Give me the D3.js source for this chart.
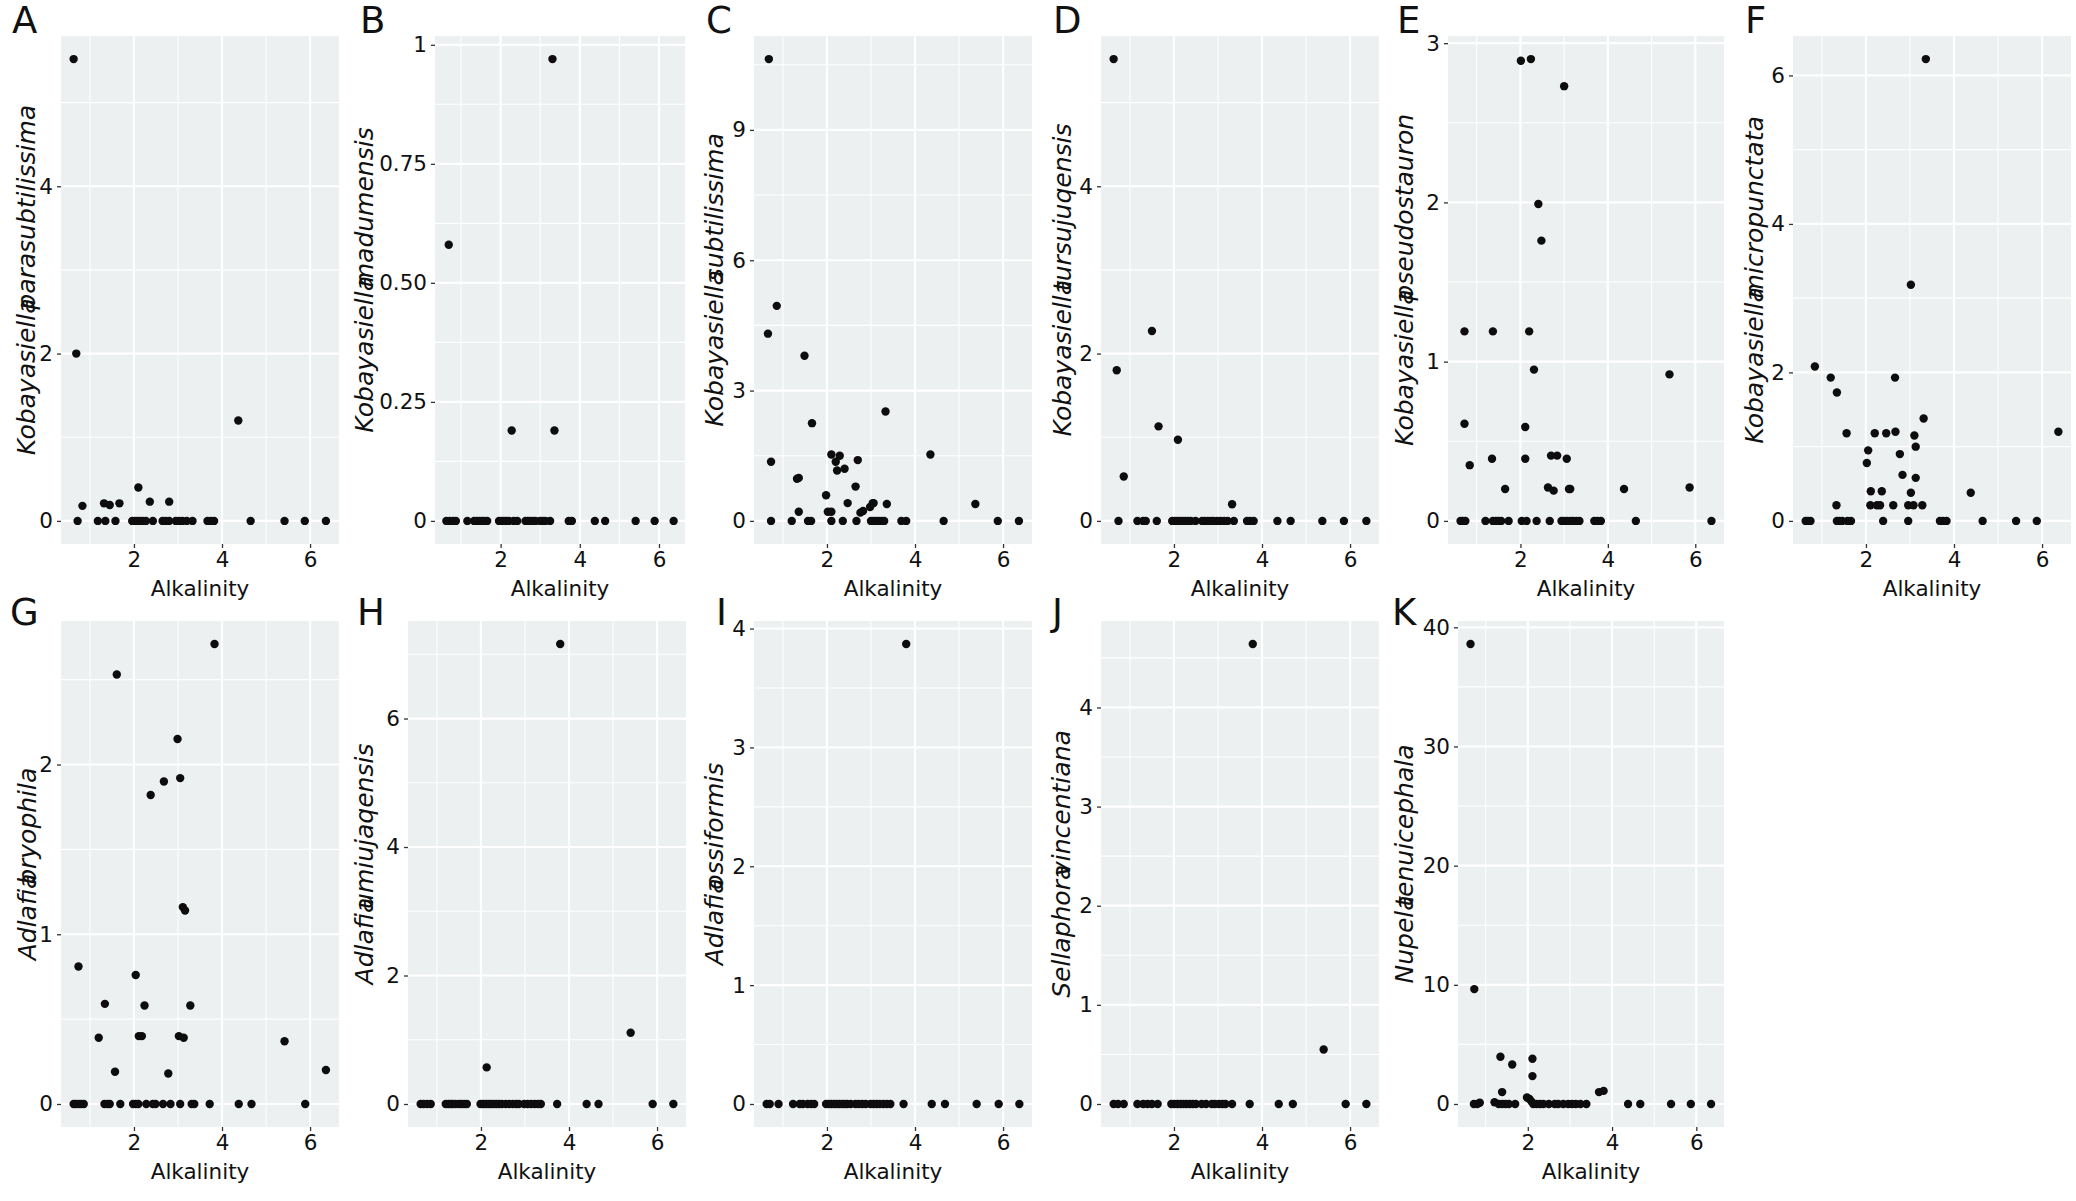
<!DOCTYPE html>
<html><head><meta charset="utf-8">
<script src="https://cdn.jsdelivr.net/npm/d3@7"></script>
<style>body{margin:0;background:#fff} svg{display:block}</style>
</head><body>
<svg id="c" width="2076" height="1201"></svg>
<script>
// ---------------- data ----------------
const letters = ["A","B","C","D","E","F","G","H","I","J","K"];
const genera  = ["Kobayasiella","Kobayasiella","Kobayasiella","Kobayasiella","Kobayasiella","Kobayasiella","Adlafia","Adlafia","Adlafia","Sellaphora","Nupela"];
const epithets = ["parasubtilissima","madumensis","subtilissima","tursujuqensis","pseudostauron","micropunctata","bryophila","umiujaqensis","ossiformis","vincentiana","tenuicephala"];
const xTicks = [2,4,6];
const xTitle = "Alkalinity";

// y breaks / labels per panel
const yTicksA = [0,2,4],            yLabA = ["0","2","4"];
const yTicksB = [0,0.25,0.5,0.75,1],yLabB = ["0","0.25","0.50","0.75","1"];
const yTicksC = [0,3,6,9],          yLabC = ["0","3","6","9"];
const yTicksD = [0,2,4],            yLabD = ["0","2","4"];
const yTicksE = [0,1,2,3],          yLabE = ["0","1","2","3"];
const yTicksF = [0,2,4,6],          yLabF = ["0","2","4","6"];
const yTicksG = [0,1,2],            yLabG = ["0","1","2"];
const yTicksH = [0,2,4,6],          yLabH = ["0","2","4","6"];
const yTicksI = [0,1,2,3,4],        yLabI = ["0","1","2","3","4"];
const yTicksJ = [0,1,2,3,4],        yLabJ = ["0","1","2","3","4"];
const yTicksK = [0,10,20,30,40],    yLabK = ["0","10","20","30","40"];

// non-zero observations [alkalinity, abundance]
const ptsA = [[0.63,5.52],[0.69,2.0],[0.83,0.18],[1.32,0.21],[1.45,0.19],[1.67,0.21],[2.1,0.4],[2.36,0.23],[2.8,0.23],[4.37,1.2]];
const ptsB = [[0.69,0.58],[3.31,0.97],[2.28,0.19],[3.36,0.19]];
const ptsC = [[0.68,10.63],[0.86,4.95],[0.66,4.31],[0.73,1.36],[1.49,3.8],[1.66,2.25],[1.32,0.97],[1.36,0.99],[1.36,0.21],[1.98,0.59],[2.02,0.21],[2.1,0.21],[2.1,1.53],[2.2,1.36],[2.29,1.5],[2.23,1.16],[2.4,1.2],[2.47,0.41],[2.65,0.79],[2.7,1.4],[2.76,0.19],[2.82,0.23],[2.98,0.32],[3.04,0.41],[3.06,0.41],[3.33,2.52],[3.36,0.39],[4.35,1.53],[5.37,0.39]];
const ptsD = [[0.63,5.52],[0.7,1.8],[0.86,0.53],[1.5,2.27],[1.65,1.13],[2.09,0.97],[3.32,0.2]];
const ptsE = [[2.01,2.89],[2.24,2.9],[3.0,2.73],[2.41,1.99],[2.48,1.76],[0.72,1.19],[1.37,1.19],[2.2,1.19],[2.31,0.95],[5.41,0.92],[0.72,0.61],[2.11,0.59],[0.84,0.35],[1.35,0.39],[2.11,0.39],[2.7,0.41],[2.84,0.41],[3.06,0.39],[1.65,0.2],[2.63,0.21],[2.76,0.19],[3.11,0.2],[3.14,0.2],[4.37,0.2],[5.87,0.21]];
const ptsF = [[3.36,6.22],[3.02,3.18],[0.84,2.08],[1.2,1.93],[1.34,1.73],[2.66,1.93],[3.31,1.38],[1.56,1.18],[2.2,1.18],[2.46,1.18],[2.67,1.2],[3.1,1.15],[3.13,1.0],[6.37,1.2],[2.05,0.95],[2.02,0.78],[2.77,0.9],[2.83,0.62],[3.13,0.58],[2.11,0.4],[2.36,0.4],[3.02,0.38],[4.38,0.38],[1.33,0.21],[2.1,0.21],[2.25,0.21],[2.32,0.21],[2.62,0.21],[2.96,0.21],[3.08,0.21],[3.28,0.21]];
const ptsG = [[3.83,2.71],[1.61,2.53],[2.99,2.15],[2.68,1.9],[3.05,1.92],[2.38,1.82],[3.11,1.16],[3.16,1.14],[0.74,0.81],[2.04,0.76],[1.34,0.59],[2.24,0.58],[3.28,0.58],[1.2,0.39],[2.11,0.4],[2.18,0.4],[3.02,0.4],[3.13,0.39],[5.42,0.37],[1.57,0.19],[2.78,0.18],[6.36,0.2]];
const ptsH = [[3.8,7.16],[5.4,1.11],[2.13,0.57]];
const ptsI = [[3.8,3.87]];
const ptsJ = [[3.79,4.64],[5.4,0.55]];
const ptsK = [[0.64,38.6],[0.73,9.64],[1.35,3.96],[1.63,3.31],[2.11,3.8],[2.11,2.34],[1.39,1.0],[3.69,1.0],[3.8,1.1],[0.86,0.1],[1.21,0.15],[1.98,0.55],[2.04,0.42],[2.09,0.2]];

// alkalinity of samples where abundance is zero
const zeroA = [0.72,1.18,1.35,1.58,1.96,2.02,2.08,2.14,2.2,2.27,2.43,2.65,2.72,2.8,2.95,3.02,3.1,3.2,3.33,3.67,3.75,3.82,4.65,5.42,5.88,6.36];
const zeroB = [0.63,0.72,0.8,0.87,1.16,1.33,1.4,1.46,1.52,1.58,1.66,1.96,2.02,2.08,2.14,2.21,2.33,2.42,2.63,2.69,2.75,2.82,2.88,3.0,3.06,3.13,3.25,3.72,3.8,4.38,4.64,5.41,5.89,6.37];
const zeroC = [0.73,1.2,1.57,1.64,2.1,2.36,2.67,3.0,3.06,3.12,3.18,3.24,3.3,3.69,3.8,4.65,5.88,6.36];
const zeroD = [0.74,1.17,1.3,1.36,1.61,1.96,2.02,2.08,2.14,2.2,2.26,2.32,2.38,2.49,2.64,2.7,2.77,2.84,2.9,2.98,3.06,3.14,3.22,3.36,3.66,3.73,3.81,4.35,4.65,5.37,5.86,6.37];
const zeroE = [0.63,0.68,0.74,1.2,1.37,1.44,1.5,1.56,1.73,2.03,2.14,2.37,2.67,2.94,3.0,3.07,3.14,3.2,3.28,3.35,3.69,3.76,3.84,4.64,6.37];
const zeroF = [0.63,0.68,0.74,1.34,1.4,1.46,1.58,1.66,2.39,2.96,3.68,3.75,3.83,4.65,5.41,5.88];
const zeroG = [0.63,0.68,0.74,0.8,0.86,1.33,1.4,1.45,1.69,1.98,2.04,2.1,2.28,2.43,2.49,2.66,2.83,3.05,3.31,3.37,3.72,4.38,4.67,5.89];
const zeroH = [0.63,0.7,0.78,0.86,1.2,1.26,1.31,1.36,1.42,1.5,1.56,1.62,1.68,1.99,2.05,2.11,2.17,2.23,2.29,2.35,2.41,2.47,2.56,2.64,2.72,2.8,2.86,2.98,3.06,3.14,3.22,3.3,3.36,3.73,4.4,4.67,5.9,6.37];
const zeroI = [0.63,0.7,0.9,1.23,1.38,1.45,1.56,1.64,1.71,1.98,2.04,2.1,2.16,2.22,2.28,2.34,2.4,2.46,2.54,2.65,2.72,2.8,2.88,2.99,3.06,3.13,3.2,3.28,3.36,3.44,3.74,4.38,4.68,5.4,5.9,6.37];
const zeroJ = [0.63,0.73,0.86,1.17,1.3,1.4,1.5,1.63,1.94,2.01,2.08,2.15,2.22,2.29,2.36,2.43,2.5,2.63,2.73,2.86,2.93,3.02,3.1,3.17,3.32,3.72,4.38,4.7,5.9,6.37];
const zeroK = [0.72,0.8,1.31,1.39,1.47,1.55,1.7,2.13,2.21,2.29,2.37,2.5,2.64,2.72,2.84,2.96,3.05,3.14,3.25,3.39,4.38,4.67,5.4,5.87,6.35];

const seriesPts = [ptsA,ptsB,ptsC,ptsD,ptsE,ptsF,ptsG,ptsH,ptsI,ptsJ,ptsK];
const seriesZero = [zeroA,zeroB,zeroC,zeroD,zeroE,zeroF,zeroG,zeroH,zeroI,zeroJ,zeroK];
const yTicksAll = [yTicksA,yTicksB,yTicksC,yTicksD,yTicksE,yTicksF,yTicksG,yTicksH,yTicksI,yTicksJ,yTicksK];
const yLabAll = [yLabA,yLabB,yLabC,yLabD,yLabE,yLabF,yLabG,yLabH,yLabI,yLabJ,yLabK];

// ---------------- layout ----------------
const rows = [{top:36, bottom:544, letterY:33}, {top:621, bottom:1127, letterY:625}];
const layout = [
  {row:0, x0:61,   x1:339,  lx:12,   col:0},
  {row:0, x0:435,  x1:685,  lx:360,  col:346},
  {row:0, x0:754,  x1:1032, lx:706,  col:692},
  {row:0, x0:1101, x1:1379, lx:1053, col:1038},
  {row:0, x0:1448, x1:1724, lx:1397, col:1384},
  {row:0, x0:1793, x1:2071, lx:1745, col:1730},
  {row:1, x0:61,   x1:339,  lx:10,   col:0},
  {row:1, x0:408,  x1:686,  lx:357,  col:346},
  {row:1, x0:754,  x1:1032, lx:716,  col:692},
  {row:1, x0:1101, x1:1379, lx:1052, col:1038},
  {row:1, x0:1458, x1:1724, lx:1392, col:1384}
];
const titleOff = [26,18,22,24,20,24,27,18,22,23,20];

const FONT = "'DejaVu Sans', 'Liberation Sans', sans-serif";
const BG = "#ECF0F0";

const svg = d3.select("#c");
svg.append("rect").attr("width",2076).attr("height",1201).attr("fill","#fff");

// shared x domain from all observations, 5% expansion
const allX = seriesPts.flatMap(s=>s.map(d=>d[0])).concat(seriesZero.flat());
const [xmin,xmax] = d3.extent(allX);
const xr = xmax - xmin;
const xDom = [xmin - 0.05*xr, xmax + 0.05*xr];

function minorBreaks(breaks, dom){
  const step = breaks[1]-breaks[0];
  const out = [];
  for (let v = breaks[0]-step/2; v <= dom[1]; v += step) if (v >= dom[0]) out.push(v);
  return out;
}

letters.forEach((L,i)=>{
  const lay = layout[i], r = rows[lay.row];
  const pts = seriesPts[i].concat(seriesZero[i].map(x=>[x,0]));
  const ymax = d3.max(pts, d=>d[1]);
  const yDom = [0 - 0.05*ymax, ymax + 0.05*ymax];
  const x = d3.scaleLinear().domain(xDom).range([lay.x0, lay.x1]);
  const y = d3.scaleLinear().domain(yDom).range([r.bottom, r.top]);
  const g = svg.append("g");

  g.append("rect").attr("x",lay.x0).attr("y",r.top)
    .attr("width",lay.x1-lay.x0).attr("height",r.bottom-r.top).attr("fill",BG);

  // minor grid
  const xMinor = minorBreaks(xTicks, xDom), yMinor = minorBreaks(yTicksAll[i], yDom);
  g.selectAll(".xm").data(xMinor).join("line")
    .attr("x1",d=>x(d)).attr("x2",d=>x(d)).attr("y1",r.top).attr("y2",r.bottom)
    .attr("stroke","#fff").attr("stroke-width",1.1);
  g.selectAll(".ym").data(yMinor).join("line")
    .attr("y1",d=>y(d)).attr("y2",d=>y(d)).attr("x1",lay.x0).attr("x2",lay.x1)
    .attr("stroke","#fff").attr("stroke-width",1.1);
  // major grid
  g.selectAll(".xM").data(xTicks).join("line")
    .attr("x1",d=>x(d)).attr("x2",d=>x(d)).attr("y1",r.top).attr("y2",r.bottom)
    .attr("stroke","#fff").attr("stroke-width",2.2);
  g.selectAll(".yM").data(yTicksAll[i]).join("line")
    .attr("y1",d=>y(d)).attr("y2",d=>y(d)).attr("x1",lay.x0).attr("x2",lay.x1)
    .attr("stroke","#fff").attr("stroke-width",2.2);

  // points
  g.selectAll("circle").data(pts).join("circle")
    .attr("cx",d=>x(d[0])).attr("cy",d=>y(d[1])).attr("r",4.2).attr("fill","#0d0d0d");

  // axes
  const labs = yLabAll[i], tv = yTicksAll[i];
  const ya = g.append("g").attr("transform",`translate(${lay.x0},0)`)
    .call(d3.axisLeft(y).tickValues(tv).tickSize(4).tickPadding(4).tickFormat((d,k)=>labs[k]));
  const xa = g.append("g").attr("transform",`translate(0,${r.bottom})`)
    .call(d3.axisBottom(x).tickValues(xTicks).tickSize(4).tickPadding(4).tickFormat(d3.format("d")));
  [ya,xa].forEach(a=>{
    a.select(".domain").remove();
    a.selectAll(".tick line").attr("stroke","#333").attr("stroke-width",1.3);
    a.selectAll(".tick text").attr("fill","#111").style("font-family",FONT).style("font-size","21.5px");
  });

  // x title
  g.append("text").attr("x",(lay.x0+lay.x1)/2).attr("y",r.bottom+52)
    .attr("text-anchor","middle").style("font-family",FONT).style("font-size","21.5px")
    .attr("fill","#111").text(xTitle);

  // y title (italic, genus + epithet run together)
  const ty = (r.top+r.bottom)/2 - 10, tx = lay.col + titleOff[i];
  const t = g.append("text").attr("transform",`translate(${tx},${ty}) rotate(-90)`)
    .attr("text-anchor","middle").attr("dy","0.36em")
    .style("font-family",FONT).style("font-size","25px").style("font-style","italic").attr("fill","#111");
  t.append("tspan").text(genera[i]);
  t.append("tspan").attr("dx","-0.45em").text(epithets[i]);

  // panel letter
  g.append("text").attr("x",lay.lx).attr("y",r.letterY)
    .style("font-family",FONT).style("font-size","37px").attr("fill","#111").text(L);
});
</script>
</body></html>
